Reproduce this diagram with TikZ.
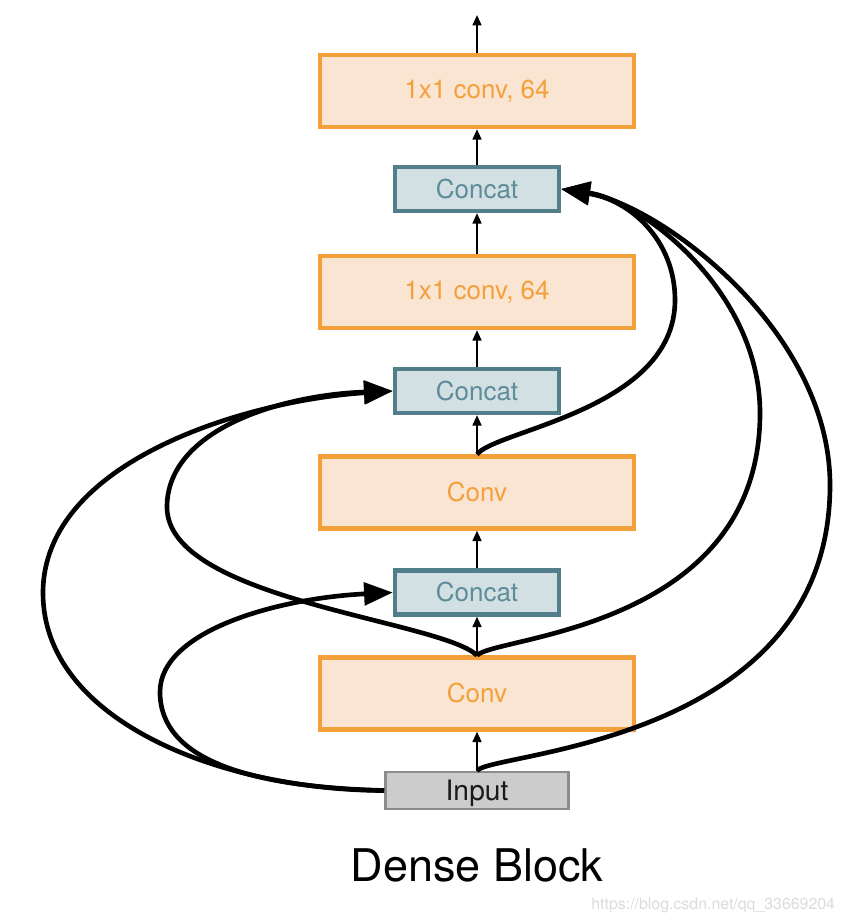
\documentclass[tikz,border=0pt]{standalone}
\usepackage{fontspec}
\setmainfont{TeX Gyre Heros}
\usetikzlibrary{arrows.meta}

\definecolor{convfill}{HTML}{FAE5D3}
\definecolor{convline}{HTML}{F4A03A}
\definecolor{catfill}{HTML}{D2DFE3}
\definecolor{catline}{HTML}{527E8B}
\definecolor{cattext}{HTML}{5E8C98}
\definecolor{inputfill}{HTML}{CCCCCC}
\definecolor{inputline}{HTML}{8C8C8C}

\tikzset{
    convbox/.style={draw=convline, fill=convfill, text=convline, line width=3pt,
        minimum width=7.85cm, minimum height=1.8cm, inner sep=0pt,
        font=\fontsize{18.5}{20}\selectfont},
    catbox/.style={draw=catline, fill=catfill, text=cattext, line width=3pt,
        minimum width=4.1cm, minimum height=1.1cm, inner sep=0pt,
        font=\fontsize{18.5}{20}\selectfont},
    inputbox/.style={draw=inputline, fill=inputfill, text=black!90, line width=1.8pt,
        minimum width=4.575cm, minimum height=0.925cm, inner sep=0pt, text depth=0pt,
        font=\fontsize{20}{22}\selectfont},
    flow/.style={-{Triangle[length=0.26cm, width=0.22cm]}, line width=1.5pt},
    skip/.style={-{Triangle[length=0.72cm, width=0.56cm]}, line width=3.3pt},
}

\begin{document}
\begin{tikzpicture}[x=0.025cm, y=-0.025cm]
    \useasboundingbox (0,0) rectangle (848,924);

    % The blocks, bottom to top
    \node[inputbox] (input) at (477,790.5) {Input};
    \node[convbox] (conv1) at (477,693.5) {Conv};
    \node[catbox] (cat1) at (477,592.5) {Concat};
    \node[convbox] (conv2) at (477,492.5) {Conv};
    \node[catbox] (cat2) at (477,391) {Concat};
    \node[convbox] (onebyone1) at (477,292) {1x1 conv, 64};
    \node[catbox] (cat3) at (477,189) {Concat};
    \node[convbox] (onebyone2) at (477,91) {1x1 conv, 64};
    \coordinate (out) at (477,15);

    % Straight path through the block
    \foreach \a/\b in {input/conv1, conv1/cat1, cat1/conv2, conv2/cat2,
                       cat2/onebyone1, onebyone1/cat3, cat3/onebyone2} {
        \draw[flow] (\a.north) -- (\b.south);
    }
    \draw[flow] (onebyone2.north) -- (out);

    % Dense connections on the left
    \draw[skip] (input.west) .. controls (220,790) and (43,720) .. (43,593)
        .. controls (43,460) and (250,400) .. (cat2.west);
    \draw[skip] (conv1.north) .. controls (440,620) and (167,600) .. (167,507)
        .. controls (167,430) and (280,395) .. (cat2.west);
    \draw[skip] (input.west) .. controls (250,787) and (160,760) .. (160,692)
        .. controls (160,630) and (280,598) .. (cat1.west);

    % Dense connections on the right
    \draw[skip] (conv2.north) .. controls (495,430) and (675,410) .. (675,300)
        .. controls (675,240) and (630,200) .. (cat3.east);
    \draw[skip] (conv1.north) .. controls (495,636) and (760,630) .. (760,413)
        .. controls (760,290) and (640,200) .. (cat3.east);
    \draw[skip] (input.north) .. controls (490,752) and (830,745) .. (830,485)
        .. controls (830,330) and (660,205) .. (cat3.east);

    % Caption
    \node[font=\fontsize{32}{36}\selectfont] (caption) at (477,865) {Dense Block};
    \node[anchor=east, text=black!14, font=\fontsize{11.3}{13}\selectfont] (mark) at (840,905) {https://blog.csdn.net/qq\_33669204};
\end{tikzpicture}
\end{document}
